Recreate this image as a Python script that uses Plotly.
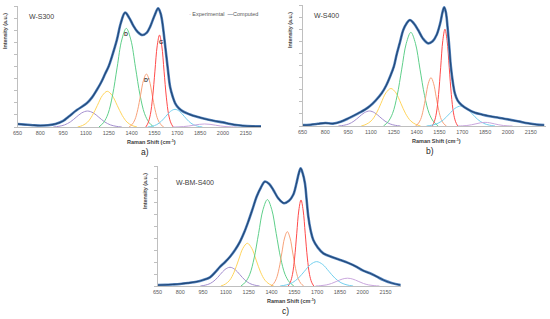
import plotly.graph_objects as go

# ---------------- data ----------------
X_TICKS = [650, 800, 950, 1100, 1250, 1400, 1550, 1700, 1850, 2000, 2150]
PANEL_TITLES = ["W-S300", "W-S400", "W-BM-S400"]
PANEL_LABELS = ["a)", "b)", "c)"]

# experimental spectra (Raman shift, normalised intensity)
A_EXP_X = [650, 700, 750, 800, 850, 900, 950, 985, 1040, 1105, 1140, 1171, 1200, 1226, 1250, 1270, 1303, 1329, 1357,
           1385, 1410, 1440, 1470, 1500, 1522, 1550, 1574, 1590, 1600, 1616, 1636, 1653, 1670, 1686, 1710, 1741, 1780,
           1829, 1880, 1938, 2000, 2048, 2100, 2158, 2200, 2250]
A_EXP_Y = [0.25, 0.2, 0.15, 0.12, 0.15, 0.25, 0.5, 0.85, 1.4, 1.96, 2.45, 3.06, 3.7, 4.4, 5.05, 5.8, 7.2, 8.6, 9.45,
           9.0, 8.4, 7.85, 7.6, 7.8, 8.3, 9.2, 9.8, 9.4, 8.8, 7.2, 5.0, 3.3, 2.5, 1.96, 1.55, 1.26, 1.05,
           0.85, 0.68, 0.52, 0.38, 0.25, 0.15, 0.08, 0.06, 0.05]

B_EXP_X = [650, 700, 750, 800, 850, 900, 951, 1016, 1060, 1093, 1130, 1170, 1200, 1225, 1250, 1268, 1290, 1312, 1335,
           1356, 1380, 1410, 1440, 1476, 1505, 1531, 1555, 1570, 1581, 1592, 1603, 1614, 1625, 1638, 1651, 1670, 1695,
           1740, 1783, 1830, 1870, 1940, 2001, 2070, 2133, 2190, 2238]
B_EXP_Y = [0.08, 0.1, 0.18, 0.25, 0.2, 0.35, 0.63, 1.05, 1.35, 1.65, 2.1, 2.7, 3.35, 4.07, 4.9, 5.87, 6.9, 7.93, 8.5,
           8.76, 8.5, 7.93, 7.25, 6.83, 7.0, 7.52, 8.5, 9.4, 9.8, 9.4, 8.2, 6.6, 4.9, 3.6, 2.7, 2.1, 1.74,
           1.35, 1.1, 0.95, 0.83, 0.68, 0.55, 0.38, 0.22, 0.12, 0.08]

C_EXP_X = [650, 700, 750, 798, 850, 908, 950, 995, 1030, 1061, 1095, 1127, 1160, 1193, 1220, 1247, 1275, 1302, 1330,
           1357, 1385, 1412, 1445, 1482, 1515, 1543, 1565, 1580, 1592, 1605, 1620, 1631, 1642, 1658, 1675, 1705, 1741,
           1800, 1851, 1900, 1960, 2000, 2048, 2090, 2136, 2190, 2250]
C_EXP_Y = [0.08, 0.1, 0.13, 0.17, 0.25, 0.36, 0.5, 0.72, 1.15, 1.6, 2.0, 2.44, 3.0, 3.7, 4.45, 5.36, 6.4, 7.44, 8.2,
           8.7, 8.5, 8.0, 7.3, 6.9, 7.1, 7.6, 8.6, 9.4, 9.8, 9.4, 8.56, 7.2, 5.8, 4.6, 3.83, 3.2, 2.72,
           2.4, 2.17, 1.95, 1.6, 1.3, 1.06, 0.8, 0.5, 0.25, 0.08]

# fitted components (sampled points along each band)
A_COMP_X = [
    [885, 922, 960, 998, 1035, 1072, 1110, 1148, 1185, 1222, 1260, 1298, 1335],
    [1045, 1078, 1110, 1142, 1175, 1208, 1240, 1272, 1305, 1338, 1370, 1402, 1435],
    [1185, 1215, 1245, 1275, 1305, 1335, 1365, 1395, 1425, 1455, 1485, 1515, 1545],
    [1383, 1402, 1421, 1440, 1459, 1478, 1497, 1516, 1535, 1554, 1573, 1592, 1611],
    [1493, 1508, 1523, 1538, 1553, 1568, 1583, 1598, 1613, 1628, 1643, 1658, 1673],
    [1505, 1535, 1565, 1595, 1625, 1655, 1685, 1715, 1745, 1775, 1805, 1835, 1865],
    [1670, 1705, 1740, 1775, 1810, 1845, 1880, 1915, 1950, 1985, 2020, 2055, 2090],
]
A_COMP_Y = [
    [0, 0.058, 0.178, 0.429, 0.801, 1.166, 1.32, 1.166, 0.801, 0.429, 0.178, 0.058, 0],
    [0, 0.130, 0.398, 0.959, 1.791, 2.605, 2.95, 2.605, 1.791, 0.959, 0.398, 0.130, 0],
    [0, 0.359, 1.100, 2.649, 4.947, 7.196, 8.15, 7.196, 4.947, 2.649, 1.100, 0.359, 0],
    [0, 0.193, 0.591, 1.424, 2.659, 3.868, 4.38, 3.868, 2.659, 1.424, 0.591, 0.193, 0],
    [0, 0.334, 1.026, 2.470, 4.613, 6.711, 7.60, 6.711, 4.613, 2.470, 1.026, 0.334, 0],
    [0, 0.064, 0.197, 0.475, 0.886, 1.289, 1.46, 1.289, 0.886, 0.475, 0.197, 0.064, 0],
    [0, 0.011, 0.034, 0.081, 0.152, 0.221, 0.25, 0.221, 0.152, 0.081, 0.034, 0.011, 0],
]

B_COMP_X = [
    [886, 920, 954, 988, 1022, 1056, 1090, 1124, 1158, 1192, 1226, 1260, 1294],
    [1036, 1068, 1101, 1134, 1166, 1198, 1231, 1264, 1296, 1328, 1361, 1394, 1426],
    [1182, 1212, 1242, 1272, 1302, 1332, 1362, 1392, 1422, 1452, 1482, 1512, 1542],
    [1392, 1409, 1426, 1443, 1460, 1477, 1494, 1511, 1528, 1545, 1562, 1579, 1596],
    [1502, 1516, 1530, 1544, 1558, 1572, 1586, 1600, 1614, 1628, 1642, 1656, 1670],
    [1465, 1502, 1540, 1578, 1615, 1652, 1690, 1728, 1765, 1802, 1840, 1878, 1915],
    [1670, 1700, 1730, 1760, 1790, 1820, 1850, 1880, 1910, 1940, 1970, 2000, 2030],
]
B_COMP_Y = [
    [0, 0.055, 0.167, 0.403, 0.753, 1.095, 1.24, 1.095, 0.753, 0.403, 0.167, 0.055, 0],
    [0, 0.136, 0.419, 1.008, 1.882, 2.737, 3.10, 2.737, 1.882, 1.008, 0.419, 0.136, 0],
    [0, 0.341, 1.045, 2.516, 4.698, 6.834, 7.74, 6.834, 4.698, 2.516, 1.045, 0.341, 0],
    [0, 0.176, 0.540, 1.300, 2.428, 3.532, 4.00, 3.532, 2.428, 1.300, 0.540, 0.176, 0],
    [0, 0.352, 1.080, 2.600, 4.856, 7.064, 8.00, 7.064, 4.856, 2.600, 1.080, 0.352, 0],
    [0, 0.073, 0.223, 0.536, 1.002, 1.457, 1.65, 1.457, 1.002, 0.536, 0.223, 0.073, 0],
    [0, 0.013, 0.041, 0.098, 0.182, 0.265, 0.30, 0.265, 0.182, 0.098, 0.041, 0.013, 0],
]

C_COMP_X = [
    [932, 964, 997, 1030, 1062, 1094, 1127, 1160, 1192, 1224, 1257, 1290, 1322],
    [1067, 1096, 1125, 1154, 1183, 1212, 1241, 1270, 1299, 1328, 1357, 1386, 1415],
    [1199, 1228, 1257, 1286, 1315, 1344, 1373, 1402, 1431, 1460, 1489, 1518, 1547],
    [1396, 1414, 1432, 1450, 1468, 1486, 1504, 1522, 1540, 1558, 1576, 1594, 1612],
    [1510, 1524, 1538, 1552, 1566, 1580, 1594, 1608, 1622, 1636, 1650, 1664, 1678],
    [1457, 1497, 1537, 1577, 1617, 1657, 1697, 1737, 1777, 1817, 1857, 1897, 1937],
    [1690, 1725, 1760, 1795, 1830, 1865, 1900, 1935, 1970, 2005, 2040, 2075, 2110],
]
C_COMP_Y = [
    [0, 0.069, 0.211, 0.507, 0.947, 1.377, 1.56, 1.377, 0.947, 0.507, 0.211, 0.069, 0],
    [0, 0.157, 0.481, 1.157, 2.161, 3.143, 3.56, 3.143, 2.161, 1.157, 0.481, 0.157, 0],
    [0, 0.317, 0.972, 2.340, 4.370, 6.358, 7.20, 6.358, 4.370, 2.340, 0.972, 0.317, 0],
    [0, 0.199, 0.612, 1.472, 2.750, 4.000, 4.53, 4.000, 2.750, 1.472, 0.612, 0.199, 0],
    [0, 0.315, 0.968, 2.330, 4.352, 6.331, 7.17, 6.331, 4.352, 2.330, 0.968, 0.315, 0],
    [0, 0.089, 0.274, 0.660, 1.232, 1.792, 2.03, 1.792, 1.232, 0.660, 0.274, 0.089, 0],
    [0, 0.029, 0.088, 0.211, 0.395, 0.574, 0.65, 0.574, 0.395, 0.211, 0.088, 0.029, 0],
]

BAND_LABELS = ["D", "D'", "G"]
BAND_LABEL_X = [1365, 1500, 1592]
BAND_LABEL_Y = [7.7, 3.9, 7.0]

# ---------------- styling ----------------
COMP_COLORS = ["#a48fcf", "#ffd45c", "#5fcf8a", "#f7a27a", "#ff4a4a", "#74d0ee", "#c9a6dd"]
EXP_COLOR = "#5b8ac4"
FIT_COLOR = "#234a7a"
AXIS_COLOR = "#bfbfbf"
FONT = "Liberation Sans"
W, H = 550, 319

# panel pixel boxes: (left, right, top, bottom)
BOXES = [(17.5, 261.0, 6.0, 127.0), (302.5, 546.0, 5.0, 126.0), (157.5, 400.7, 166.0, 286.0)]

panels = [
    (A_EXP_X, A_EXP_Y, A_COMP_X, A_COMP_Y),
    (B_EXP_X, B_EXP_Y, B_COMP_X, B_COMP_Y),
    (C_EXP_X, C_EXP_Y, C_COMP_X, C_COMP_Y),
]

fig = go.Figure()
for i, (ex, ey, cxs, cys) in enumerate(panels):
    xa = "x" if i == 0 else f"x{i+1}"
    ya = "y" if i == 0 else f"y{i+1}"
    for j, (cx, cy) in enumerate(zip(cxs, cys)):
        fig.add_trace(go.Scatter(x=cx, y=cy, mode="lines", line=dict(color=COMP_COLORS[j], width=1, shape="spline"),
                                 xaxis=xa, yaxis=ya, showlegend=False, hoverinfo="skip"))
    fig.add_trace(go.Scatter(x=ex, y=ey, mode="lines", name="Experimental",
                             line=dict(color=EXP_COLOR, width=2.6, shape="spline"),
                             xaxis=xa, yaxis=ya, showlegend=False))
    fig.add_trace(go.Scatter(x=ex, y=ey, mode="lines", name="Computed",
                             line=dict(color=FIT_COLOR, width=1.3, shape="spline"),
                             xaxis=xa, yaxis=ya, showlegend=False))

layout = dict(width=W, height=H, margin=dict(l=0, r=0, t=0, b=0, pad=0, autoexpand=False),
              paper_bgcolor="white", plot_bgcolor="white",
              font=dict(family=FONT, color="#595959"), showlegend=False)
annotations = []
for i, (l, r, t, b) in enumerate(BOXES):
    sfx = "" if i == 0 else str(i + 1)
    layout[f"xaxis{sfx}"] = dict(domain=[l / W, r / W], range=[650, 2250], anchor=f"y{sfx}", automargin=False,
                                 tickvals=X_TICKS, ticktext=[str(v) for v in X_TICKS],
                                 tickfont=dict(size=5.5, color="#595959", family=FONT), ticks="",
                                 showline=True, linecolor=AXIS_COLOR, linewidth=1, showgrid=False, zeroline=False)
    layout[f"yaxis{sfx}"] = dict(domain=[1 - b / H, 1 - t / H], range=[0, 10], anchor=f"x{sfx}", automargin=False,
                                 dtick=1, tick0=0, ticks="outside", ticklen=3, tickcolor=AXIS_COLOR,
                                 showticklabels=False, showline=True, linecolor=AXIS_COLOR, linewidth=1,
                                 showgrid=False, zeroline=False)
    cx = (l + r) / 2
    annotations.append(dict(text="<b>Raman Shift (cm<sup>-1</sup>)</b>", xref="paper", yref="paper",
                            x=(cx + 12) / W, y=1 - (b + 15) / H, showarrow=False,
                            font=dict(size=5.5, color="#404040", family=FONT), xanchor="center", yanchor="middle"))
    annotations.append(dict(text=PANEL_LABELS[i], xref="paper", yref="paper",
                            x=(cx + 6) / W, y=1 - (b + 25) / H, showarrow=False,
                            font=dict(size=8.5, color="#262626", family=FONT), xanchor="center", yanchor="middle"))
    annotations.append(dict(text="<b>Intensity (a.u.)</b>", xref="paper", yref="paper", textangle=-90,
                            x=(l - 12.5) / W, y=1 - (t + 25) / H, showarrow=False,
                            font=dict(size=5.3, color="#404040", family=FONT), xanchor="center", yanchor="middle"))
    annotations.append(dict(text=PANEL_TITLES[i], xref="paper", yref="paper",
                            x=(l + 9 if i < 2 else l + 16) / W, y=1 - (t + (10 if i < 2 else 16)) / H,
                            showarrow=False, font=dict(size=7, color="#404040", family=FONT),
                            xanchor="left", yanchor="middle"))

for txt, bx, by in zip(BAND_LABELS, BAND_LABEL_X, BAND_LABEL_Y):
    annotations.append(dict(text=f"<b>{txt}</b>", x=bx, y=by, xref="x", yref="y", showarrow=False,
                            font=dict(size=5.5, color="#404040", family=FONT)))

annotations.append(dict(text="<span style='color:#4a7fbf'>·</span> Experimental  <span style='color:#1c3d6b'>—</span>Computed",
                        xref="paper", yref="paper", x=187 / W, y=1 - 13.5 / H, xanchor="left", yanchor="middle",
                        showarrow=False, font=dict(size=5.5, color="#595959", family=FONT)))

layout["annotations"] = annotations
fig.update_layout(**layout)
fig.write_html("out.html", config={"displayModeBar": False},
               post_script="document.body.style.margin='0';document.body.style.overflow='hidden';")
